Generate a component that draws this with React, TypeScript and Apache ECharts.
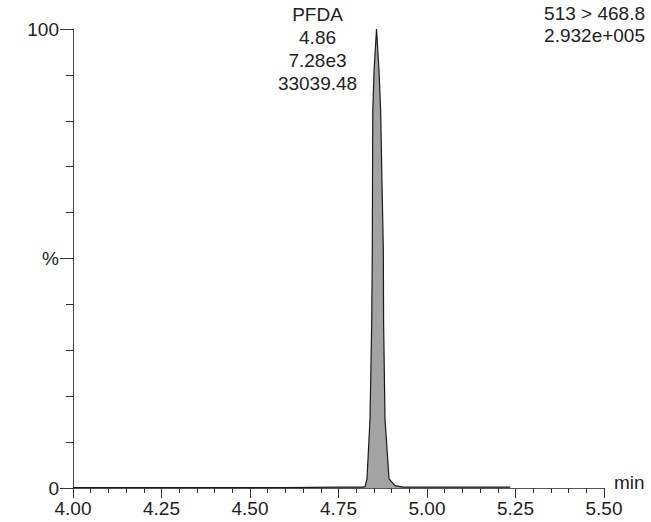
import React, { useEffect, useRef } from "react";
import * as echarts from "echarts";

// Retention times (min) and relative intensity (%) of the chromatogram trace
const times = [
  4.0, 4.2, 4.4, 4.6, 4.75, 4.82, 4.8249, 4.8305, 4.839, 4.8438, 4.8455,
  4.8462, 4.8468, 4.8505, 4.8574, 4.8644, 4.8692, 4.872, 4.8766, 4.8774,
  4.8814, 4.8927, 4.9096, 4.9322, 5.0, 5.1, 5.235,
];
const intensity = [
  0.1, 0.1, 0.1, 0.1, 0.2, 0.2, 0.3, 2, 15, 36, 52,
  70, 82, 91, 100, 91, 82, 70, 52, 36,
  15, 2, 0.5, 0.2, 0.2, 0.2, 0.2,
];

const xTicks = [4.0, 4.25, 4.5, 4.75, 5.0, 5.25, 5.5];
const peakLabel = ["PFDA", "4.86", "7.28e3", "33039.48"];
const peakApex = [4.8574, 100];
const channelLabel = ["513 > 468.8", "2.932e+005"];

const FONT = "'Liberation Sans', Arial, sans-serif";

export default function App() {
  const ref = useRef<HTMLDivElement>(null);
  useEffect(() => {
    if (!ref.current) return;
    const chart = echarts.init(ref.current, null, { renderer: "svg" });
    const data = times.map((t, i) => [t, intensity[i]]);
    chart.setOption({
      animation: false,
      backgroundColor: "#ffffff",
      grid: { left: 73, right: 47, top: 29, bottom: 34, containLabel: false },
      xAxis: {
        type: "value",
        min: xTicks[0],
        max: xTicks[xTicks.length - 1],
        interval: 0.25,
        name: "min",
        nameLocation: "end",
        nameGap: 10,
        nameTextStyle: {
          fontFamily: FONT,
          fontSize: 19,
          color: "#222",
          verticalAlign: "bottom",
          padding: [0, 0, -4, 0],
        },
        axisLine: { show: true, lineStyle: { color: "#555", width: 1 } },
        axisTick: { show: true, length: 10, lineStyle: { color: "#333" } },
        minorTick: { show: true, splitNumber: 5, length: 5, lineStyle: { color: "#333" } },
        splitLine: { show: false },
        axisLabel: {
          fontFamily: FONT,
          fontSize: 19,
          color: "#222",
          margin: 11,
          formatter: (v: number) => v.toFixed(2),
        },
      },
      yAxis: {
        type: "value",
        min: 0,
        max: 100,
        interval: 50,
        axisLine: { show: true, lineStyle: { color: "#444", width: 1 } },
        axisTick: { show: true, length: 13, lineStyle: { color: "#333" } },
        minorTick: { show: true, splitNumber: 5, length: 7, lineStyle: { color: "#333" } },
        splitLine: { show: false },
        axisLabel: {
          fontFamily: FONT,
          fontSize: 19,
          color: "#222",
          margin: 14,
          formatter: (v: number) => (v === 50 ? "%" : String(v)),
        },
      },
      series: [
        {
          type: "line",
          data,
          symbol: "none",
          lineStyle: { color: "#1a1a1a", width: 1.2 },
          areaStyle: { color: "#a3a3a3", opacity: 1 },
          markPoint: {
            symbol: "circle",
            symbolSize: 0,
            data: [
              {
                coord: peakApex,
                label: {
                  show: true,
                  formatter: peakLabel.join("\n"),
                  fontFamily: FONT,
                  fontSize: 19,
                  lineHeight: 23,
                  color: "#222",
                  align: "center",
                  offset: [-59, 20],
                },
              },
            ],
          },
          markLine: {
            symbol: "none",
            silent: true,
            label: { show: false },
            lineStyle: { color: "#222", width: 1, type: "solid" },
            data: [[{ coord: [4.816, 100.3] }, { coord: [peakApex[0], 100.3] }]],
          },
        },
      ],
      graphic: [
        {
          type: "text",
          right: 6,
          top: 2,
          style: {
            text: channelLabel.join("\n"),
            font: `19px ${FONT}`,
            lineHeight: 22,
            fill: "#222",
            align: "right",
          },
        },
      ],
    });
    return () => chart.dispose();
  }, []);
  return (
    <div
      ref={ref}
      style={{ position: "absolute", left: 0, top: 0, width: 651, height: 522 }}
    />
  );
}
